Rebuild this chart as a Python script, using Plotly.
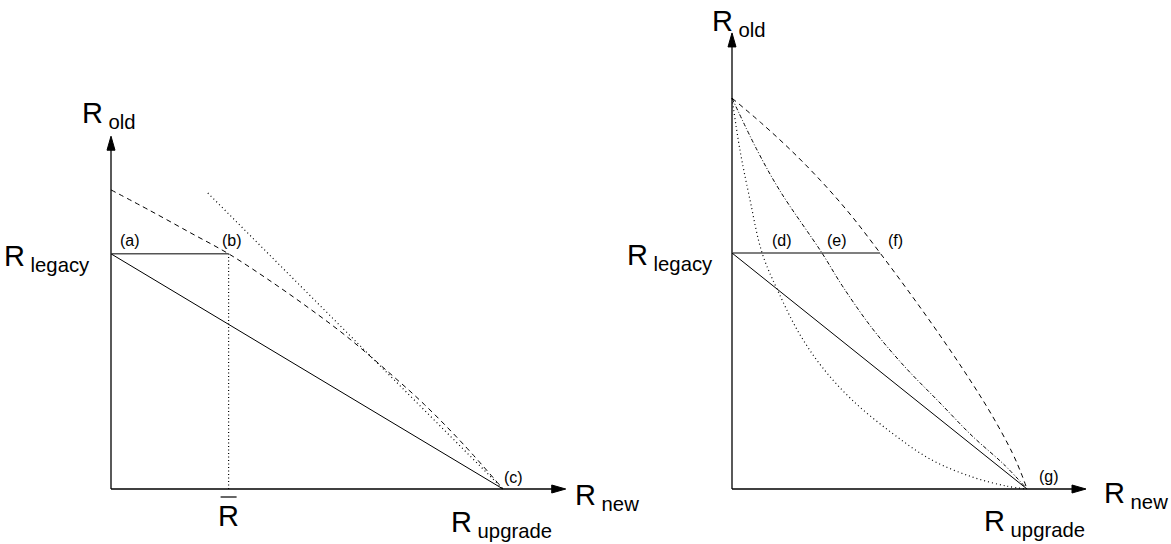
import plotly.graph_objects as go

# ---------------- data (schematic units: R_upgrade = 1 on each panel) ----------------
# Left panel
L_R_UPGRADE = 1.0
L_R_LEGACY = 0.60
L_R_BAR = 0.30
L_X_END = 1.16
L_Y_END = 0.90
L_dash_x = [0.0, 0.10, 0.20, 0.30, 0.40, 0.50, 0.60, 0.70, 0.80, 0.90, 1.0]
L_dash_y = [0.763, 0.710, 0.655, 0.600, 0.535, 0.465, 0.390, 0.305, 0.215, 0.113, 0.0]
L_dot_x = [0.247, 1.0]
L_dot_y = [0.755, 0.0]

# Right panel
R_R_UPGRADE = 1.0
R_R_LEGACY = 0.80
R_X_END = 1.20
R_Y_END = 1.546
R_dot_x = [0.0, 0.027, 0.061, 0.102, 0.159, 0.227, 0.305, 0.407, 0.542, 0.678, 0.814, 0.93, 1.0]
R_dot_y = [1.325, 1.149, 0.980, 0.80, 0.664, 0.529, 0.414, 0.302, 0.190, 0.098, 0.041, 0.010, 0.0]
R_dd_x = [0.0, 0.085, 0.163, 0.305, 0.373, 0.475, 0.586, 0.702, 0.814, 0.925, 1.0]
R_dd_y = [1.325, 1.149, 1.010, 0.80, 0.690, 0.545, 0.414, 0.295, 0.180, 0.080, 0.0]
R_dash_x = [0.0, 0.10, 0.20, 0.30, 0.40, 0.502, 0.60, 0.70, 0.80, 0.88, 0.95, 0.98, 1.0]
R_dash_y = [1.325, 1.240, 1.148, 1.046, 0.932, 0.80, 0.668, 0.528, 0.380, 0.252, 0.123, 0.054, 0.0]

# ---------------- layout constants (pixels) ----------------
W, H = 1171, 544
L_OX, L_OY, L_S = 111, 489, 392.0
R_OX, R_OY, R_S = 732, 489, 295.0
FONT = "Liberation Sans, Arial, Helvetica, sans-serif"
BIG = 29
SMALL = 16

fig = go.Figure()


def line(x, y, ax, dash="solid", width=1.0, color="black", spline=False):
    xa, ya = ("x", "y") if ax == 1 else ("x2", "y2")
    fig.add_trace(go.Scatter(
        x=x, y=y, mode="lines", xaxis=xa, yaxis=ya, hoverinfo="skip",
        line=dict(color=color, width=width, dash=dash,
                  shape="spline" if spline else "linear", smoothing=1.0)))


def arrowhead(ax, tip, horizontal, scale):
    xa, ya = ("x", "y") if ax == 1 else ("x2", "y2")
    ln, hw = 14 / scale, 4 / scale
    if horizontal:
        xs = [tip, tip - ln, tip - ln, tip]
        ys = [0, hw, -hw, 0]
    else:
        xs = [0, hw, -hw, 0]
        ys = [tip, tip - ln, tip - ln, tip]
    fig.add_trace(go.Scatter(x=xs, y=ys, mode="lines", fill="toself",
                             fillcolor="black", xaxis=xa, yaxis=ya,
                             line=dict(color="black", width=1), hoverinfo="skip"))


# ---- left panel ----
line([0, L_X_END - 10 / L_S], [0, 0], 1, width=1.3)
line([0, 0], [0, L_Y_END - 10 / L_S], 1, width=1.3)
arrowhead(1, L_X_END, True, L_S)
arrowhead(1, L_Y_END, False, L_S)
line([0, L_R_BAR], [L_R_LEGACY, L_R_LEGACY], 1, color="#555", width=1.6)
line([0, L_R_UPGRADE], [L_R_LEGACY, 0], 1, width=1.0)
line(L_dash_x, L_dash_y, 1, dash="5px,4px", width=1.0, spline=True)
line(L_dot_x, L_dot_y, 1, dash="1px,3px", width=1.2)
line([L_R_BAR, L_R_BAR], [0, L_R_LEGACY], 1, dash="1px,2.5px", width=1.2)

# ---- right panel ----
line([0, R_X_END - 10 / R_S], [0, 0], 2, width=1.3)
line([0, 0], [0, R_Y_END - 10 / R_S], 2, width=1.3)
arrowhead(2, R_X_END, True, R_S)
arrowhead(2, R_Y_END, False, R_S)
line([0, R_dash_x[5]], [R_R_LEGACY, R_R_LEGACY], 2, color="#555", width=1.6)
line([0, R_R_UPGRADE], [R_R_LEGACY, 0], 2, width=1.0)
line(R_dot_x, R_dot_y, 2, dash="1px,3px", width=1.2, spline=True)
line(R_dd_x, R_dd_y, 2, dash="4px,2px,1px,2px", width=1.0, spline=True)
line(R_dash_x, R_dash_y, 2, dash="5px,4px", width=1.0, spline=True)

# ---- labels ----
ann = []


def lab(text, x, y, ax, size, xanchor="center", yanchor="middle"):
    ann.append(dict(text=text, x=x, y=y, xref="x" if ax == 1 else "x2",
                    yref="y" if ax == 1 else "y2", showarrow=False,
                    xanchor=xanchor, yanchor=yanchor,
                    font=dict(family=FONT, size=size, color="black")))


# left
lab("R<sub> old</sub>", -0.079, 0.955, 1, BIG, xanchor="left")
lab("R<sub> legacy</sub>", -0.048, 0.59, 1, BIG, xanchor="right")
lab("R<sub> new</sub>", 1.179, -0.02, 1, BIG, xanchor="left")
lab("R<sub> upgrade</sub>", 0.995, -0.09, 1, BIG)
lab("R", L_R_BAR, -0.07, 1, BIG)
lab("(a)", 0.048, 0.635, 1, SMALL)
lab("(b)", 0.309, 0.635, 1, SMALL)
lab("(c)", 1.026, 0.03, 1, SMALL)
# right
lab("R<sub> old</sub>", -0.075, 1.58, 2, BIG, xanchor="left")
lab("R<sub> legacy</sub>", -0.058, 0.785, 2, BIG, xanchor="right")
lab("R<sub> new</sub>", 1.254, -0.02, 2, BIG, xanchor="left")
lab("R<sub> upgrade</sub>", 1.027, -0.115, 2, BIG)
lab("(d)", 0.169, 0.844, 2, SMALL)
lab("(e)", 0.356, 0.844, 2, SMALL)
lab("(f)", 0.553, 0.844, 2, SMALL)
lab("(g)", 1.075, 0.041, 2, SMALL)

# overline of R-bar
shapes = [dict(type="line", xref="x", yref="y",
               x0=L_R_BAR - 8 / L_S, x1=L_R_BAR + 8 / L_S,
               y0=-8 / L_S, y1=-8 / L_S, line=dict(color="black", width=1.2))]

axis_common = dict(visible=False, showgrid=False, zeroline=False, fixedrange=True)
fig.update_layout(
    width=W, height=H, margin=dict(l=0, r=0, t=0, b=0, pad=0),
    paper_bgcolor="white", plot_bgcolor="white", showlegend=False,
    xaxis=dict(domain=[0, 1], range=[-L_OX / L_S, (W - L_OX) / L_S], anchor="y", **axis_common),
    yaxis=dict(domain=[0, 1], range=[-(H - L_OY) / L_S, L_OY / L_S], anchor="x", **axis_common),
    xaxis2=dict(domain=[0, 1], range=[-R_OX / R_S, (W - R_OX) / R_S], anchor="y2",
                overlaying="x", **axis_common),
    yaxis2=dict(domain=[0, 1], range=[-(H - R_OY) / R_S, R_OY / R_S], anchor="x2",
                overlaying="y", **axis_common),
    annotations=ann, shapes=shapes,
)

fig.write_html("out.html", config={"displayModeBar": False, "staticPlot": True},
               post_script="document.body.style.margin='0px';document.body.style.overflow='hidden';")
